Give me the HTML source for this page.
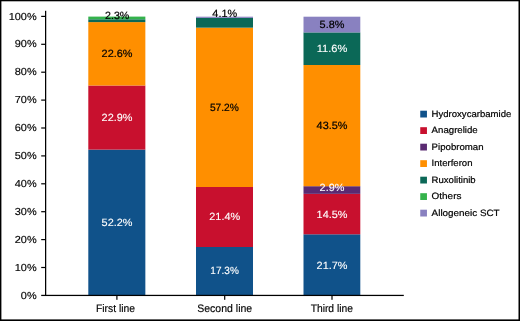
<!DOCTYPE html>
<html>
<head>
<meta charset="utf-8">
<title>Treatment lines</title>
<style>
html,body{margin:0;padding:0;background:#fff;}
body{width:520px;height:321px;overflow:hidden;font-family:"Liberation Sans",sans-serif;}
svg{display:block;font-family:"Liberation Sans",sans-serif;will-change:transform;text-rendering:geometricPrecision;}
</style>
</head>
<body>
<svg width="520" height="321" viewBox="0 0 520 321">
<rect x="0.00" y="0.00" width="520.00" height="321.00" fill="#fff"/>
<rect x="0.00" y="0.00" width="520.00" height="1.30" fill="#000"/>
<rect x="0.00" y="0.00" width="1.40" height="321.00" fill="#000"/>
<rect x="518.50" y="0.00" width="1.50" height="321.00" fill="#000"/>
<rect x="0.00" y="319.40" width="520.00" height="1.60" fill="#000"/>
<rect x="88.30" y="149.60" width="57.05" height="145.40" fill="#10528a"/>
<rect x="88.30" y="85.50" width="57.05" height="64.10" fill="#c8102e"/>
<rect x="88.30" y="22.10" width="57.05" height="63.40" fill="#ff8f00"/>
<rect x="88.30" y="19.30" width="57.05" height="2.80" fill="#0b6857"/>
<rect x="88.30" y="16.60" width="57.05" height="2.70" fill="#34b24b"/>
<rect x="196.00" y="247.00" width="57.00" height="48.00" fill="#10528a"/>
<rect x="196.00" y="187.00" width="57.00" height="60.00" fill="#c8102e"/>
<rect x="196.00" y="27.65" width="57.00" height="159.35" fill="#ff8f00"/>
<rect x="196.00" y="17.90" width="57.00" height="9.75" fill="#0b6857"/>
<rect x="196.00" y="16.70" width="57.00" height="1.20" fill="#8981c0"/>
<rect x="303.50" y="234.30" width="56.80" height="60.70" fill="#10528a"/>
<rect x="303.50" y="193.85" width="56.80" height="40.45" fill="#c8102e"/>
<rect x="303.50" y="186.20" width="56.80" height="7.65" fill="#5a2a72"/>
<rect x="303.50" y="65.00" width="56.80" height="121.20" fill="#ff8f00"/>
<rect x="303.50" y="32.40" width="56.80" height="32.60" fill="#0b6857"/>
<rect x="303.50" y="16.70" width="56.80" height="15.70" fill="#8981c0"/>
<rect x="45.00" y="10.80" width="1.25" height="285.20" fill="#000"/>
<rect x="41.20" y="294.80" width="362.60" height="1.25" fill="#000"/>
<rect x="41.20" y="15.80" width="4.00" height="1.20" fill="#000"/>
<rect x="41.20" y="43.70" width="4.00" height="1.20" fill="#000"/>
<rect x="41.20" y="71.60" width="4.00" height="1.20" fill="#000"/>
<rect x="41.20" y="99.50" width="4.00" height="1.20" fill="#000"/>
<rect x="41.20" y="127.40" width="4.00" height="1.20" fill="#000"/>
<rect x="41.20" y="155.30" width="4.00" height="1.20" fill="#000"/>
<rect x="41.20" y="183.20" width="4.00" height="1.20" fill="#000"/>
<rect x="41.20" y="211.10" width="4.00" height="1.20" fill="#000"/>
<rect x="41.20" y="239.00" width="4.00" height="1.20" fill="#000"/>
<rect x="41.20" y="266.90" width="4.00" height="1.20" fill="#000"/>
<rect x="116.30" y="296.00" width="1.20" height="3.80" fill="#000"/>
<rect x="224.10" y="296.00" width="1.20" height="3.80" fill="#000"/>
<rect x="331.40" y="296.00" width="1.20" height="3.80" fill="#000"/>
<text transform="translate(36.70,19.55) scale(1.075,1)" font-size="10.2" text-anchor="end" fill="#000" stroke="#000" stroke-width="0.15">100%</text>
<text transform="translate(36.70,47.48) scale(1.075,1)" font-size="10.2" text-anchor="end" fill="#000" stroke="#000" stroke-width="0.15">90%</text>
<text transform="translate(36.70,75.41) scale(1.075,1)" font-size="10.2" text-anchor="end" fill="#000" stroke="#000" stroke-width="0.15">80%</text>
<text transform="translate(36.70,103.34) scale(1.075,1)" font-size="10.2" text-anchor="end" fill="#000" stroke="#000" stroke-width="0.15">70%</text>
<text transform="translate(36.70,131.27) scale(1.075,1)" font-size="10.2" text-anchor="end" fill="#000" stroke="#000" stroke-width="0.15">60%</text>
<text transform="translate(36.70,159.20) scale(1.075,1)" font-size="10.2" text-anchor="end" fill="#000" stroke="#000" stroke-width="0.15">50%</text>
<text transform="translate(36.70,187.13) scale(1.075,1)" font-size="10.2" text-anchor="end" fill="#000" stroke="#000" stroke-width="0.15">40%</text>
<text transform="translate(36.70,215.06) scale(1.075,1)" font-size="10.2" text-anchor="end" fill="#000" stroke="#000" stroke-width="0.15">30%</text>
<text transform="translate(36.70,242.99) scale(1.075,1)" font-size="10.2" text-anchor="end" fill="#000" stroke="#000" stroke-width="0.15">20%</text>
<text transform="translate(36.70,270.92) scale(1.075,1)" font-size="10.2" text-anchor="end" fill="#000" stroke="#000" stroke-width="0.15">10%</text>
<text transform="translate(36.70,298.85) scale(1.075,1)" font-size="10.2" text-anchor="end" fill="#000" stroke="#000" stroke-width="0.15">0%</text>
<text transform="translate(115.50,311.65) scale(0.948,1)" font-size="10.9" text-anchor="middle" fill="#000" stroke="#000" stroke-width="0.15">First line</text>
<text transform="translate(224.70,311.65) scale(0.964,1)" font-size="10.9" text-anchor="middle" fill="#000" stroke="#000" stroke-width="0.15">Second line</text>
<text transform="translate(331.80,311.65) scale(0.945,1)" font-size="10.9" text-anchor="middle" fill="#000" stroke="#000" stroke-width="0.15">Third line</text>
<text transform="translate(117.20,19.05) scale(1.0143,1)" font-size="10.5" text-anchor="middle" fill="#000" stroke="#000" stroke-width="0.2">2.3%</text>
<text transform="translate(117.00,57.30) scale(1.035,1)" font-size="10.5" text-anchor="middle" fill="#000" stroke="#000" stroke-width="0.2">22.6%</text>
<text transform="translate(117.00,121.30) scale(1.035,1)" font-size="10.5" text-anchor="middle" fill="#fff" stroke="#fff" stroke-width="0.12">22.9%</text>
<text transform="translate(117.00,225.75) scale(1.035,1)" font-size="10.5" text-anchor="middle" fill="#fff" stroke="#fff" stroke-width="0.12">52.2%</text>
<text transform="translate(224.75,16.90) scale(1.035,1)" font-size="10.5" text-anchor="middle" fill="#000" stroke="#000" stroke-width="0.2">4.1%</text>
<text transform="translate(224.40,110.80) scale(0.9729,1)" font-size="10.5" text-anchor="middle" fill="#000" stroke="#000" stroke-width="0.2">57.2%</text>
<text transform="translate(224.70,220.05) scale(1.035,1)" font-size="10.5" text-anchor="middle" fill="#fff" stroke="#fff" stroke-width="0.12">21.4%</text>
<text transform="translate(224.60,274.40) scale(0.9553,1)" font-size="10.5" text-anchor="middle" fill="#fff" stroke="#fff" stroke-width="0.12">17.3%</text>
<text transform="translate(332.00,28.00) scale(1.035,1)" font-size="10.5" text-anchor="middle" fill="#000" stroke="#000" stroke-width="0.2">5.8%</text>
<text transform="translate(332.00,52.40) scale(1.0557,1)" font-size="10.5" text-anchor="middle" fill="#fff" stroke="#fff" stroke-width="0.12">11.6%</text>
<text transform="translate(332.00,129.20) scale(1.035,1)" font-size="10.5" text-anchor="middle" fill="#000" stroke="#000" stroke-width="0.2">43.5%</text>
<text transform="translate(332.00,191.20) scale(1.035,1)" font-size="10.5" text-anchor="middle" fill="#fff" stroke="#fff" stroke-width="0.12">2.9%</text>
<text transform="translate(332.00,217.50) scale(1.035,1)" font-size="10.5" text-anchor="middle" fill="#fff" stroke="#fff" stroke-width="0.12">14.5%</text>
<text transform="translate(332.00,268.50) scale(1.035,1)" font-size="10.5" text-anchor="middle" fill="#fff" stroke="#fff" stroke-width="0.12">21.7%</text>
<rect x="420.25" y="110.70" width="6.70" height="6.80" fill="#10528a"/>
<text transform="translate(431.60,116.90) scale(1.04,1)" font-size="9.2" text-anchor="start" fill="#000" stroke="#000" stroke-width="0.2">Hydroxycarbamide</text>
<rect x="420.25" y="127.20" width="6.70" height="6.80" fill="#c8102e"/>
<text transform="translate(431.60,133.40) scale(1.0504,1)" font-size="9.2" text-anchor="start" fill="#000" stroke="#000" stroke-width="0.2">Anagrelide</text>
<rect x="420.25" y="143.70" width="6.70" height="6.80" fill="#5a2a72"/>
<text transform="translate(431.60,149.90) scale(1.0483,1)" font-size="9.2" text-anchor="start" fill="#000" stroke="#000" stroke-width="0.2">Pipobroman</text>
<rect x="420.25" y="160.20" width="6.70" height="6.80" fill="#ff8f00"/>
<text transform="translate(431.60,166.40) scale(1.04,1)" font-size="9.2" text-anchor="start" fill="#000" stroke="#000" stroke-width="0.2">Interferon</text>
<rect x="420.25" y="176.70" width="6.70" height="6.80" fill="#0b6857"/>
<text transform="translate(431.60,182.90) scale(1.04,1)" font-size="9.2" text-anchor="start" fill="#000" stroke="#000" stroke-width="0.2">Ruxolitinib</text>
<rect x="420.25" y="193.20" width="6.70" height="6.80" fill="#34b24b"/>
<text transform="translate(431.60,199.40) scale(1.0816,1)" font-size="9.2" text-anchor="start" fill="#000" stroke="#000" stroke-width="0.2">Others</text>
<rect x="420.25" y="209.70" width="6.70" height="6.80" fill="#8981c0"/>
<text transform="translate(431.60,215.90) scale(1.0743,1)" font-size="9.2" text-anchor="start" fill="#000" stroke="#000" stroke-width="0.2">Allogeneic SCT</text>
</svg>
</body>
</html>
